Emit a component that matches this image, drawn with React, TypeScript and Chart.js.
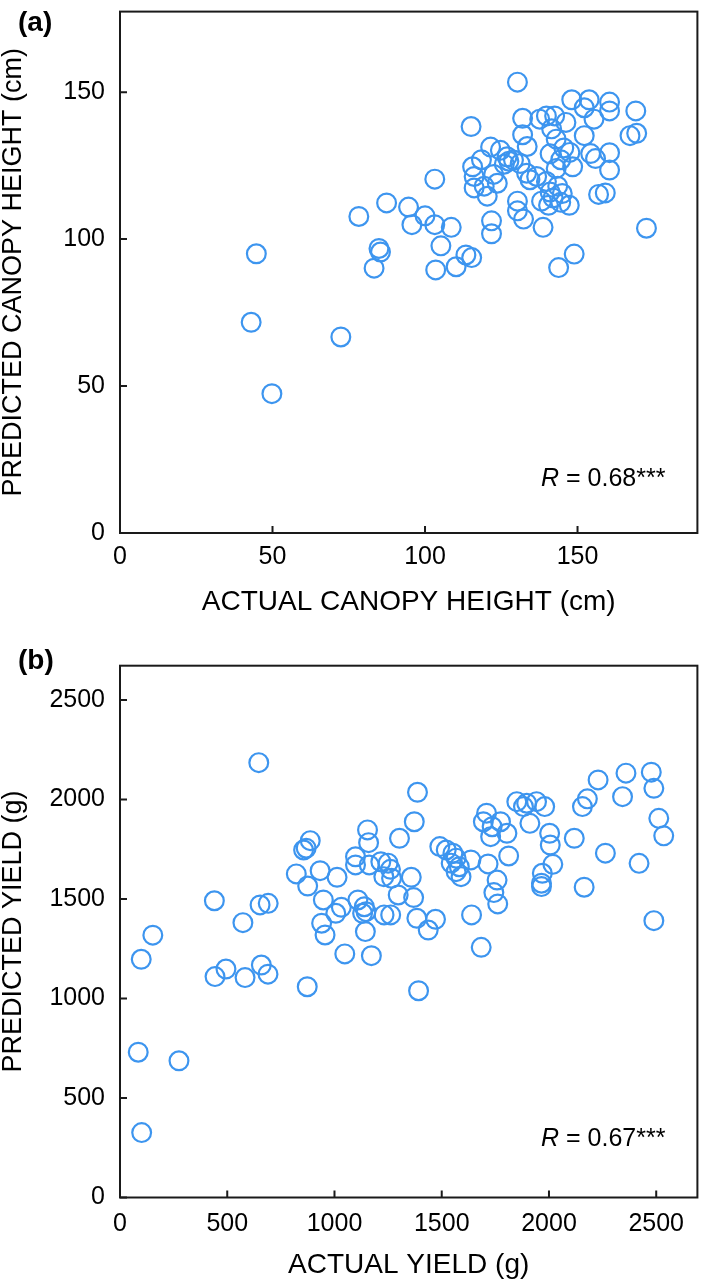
import React, { useEffect, useRef } from 'react';
import { Chart, registerables } from 'chart.js';

Chart.register(...registerables);

const FONT = "'Liberation Sans', Arial, Helvetica, sans-serif";
const BLUE = '#3d95ef';
const INK = '#1a1a1a';

// ---------- Panel (a): canopy height ----------
const heightActual = [
  43.0, 44.7, 49.8, 72.4, 78.3, 83.3, 84.9, 85.4, 87.4, 94.6, 95.7, 100.0, 103.2, 103.2, 105.2, 103.5, 108.6, 110.2, 113.4, 115.3, 115.1, 130.3,
  115.6, 116.1, 116.1, 119.4, 120.4, 121.5, 118.5, 123.7, 124.7, 126.9, 129.0, 131.2, 126.0, 133.3, 121.8, 121.8, 130.3, 130.3, 132.3, 122.5, 127.5,
  132.0, 132.0, 133.5, 137.6, 139.8, 142.5, 146.2, 148.1, 153.8, 152.2, 160.5, 160.5, 169.1, 167.2, 169.4, 155.4, 152.2, 154.3, 155.9, 160.5, 160.5, 148.4, 141.5, 143.0, 145.5, 141.0, 144.5, 147.5, 143.0,
  136.6, 139.8, 138.2, 141.0, 143.5, 142.0, 144.5, 140.5, 145.0, 147.3, 156.9, 159.1, 138.7, 148.9, 143.8, 172.6, 134.4,
];
const heightPredicted = [
  71.7, 95.0, 47.4, 66.7, 107.7, 90.1, 96.8, 95.6, 112.3, 110.9, 104.9, 107.9, 104.9, 120.4, 97.7, 89.5, 104.0, 90.6, 94.6, 93.7, 138.3, 153.4,
  124.6, 121.3, 117.4, 118.0, 114.6, 131.3, 127.0, 119.0, 130.2, 128.0, 126.9, 125.7, 125.5, 122.4, 106.2, 101.8, 112.9, 109.6, 106.8, 122.0, 126.5,
  141.1, 135.5, 131.5, 140.8, 141.9, 141.9, 139.7, 147.4, 147.4, 144.7, 146.6, 143.6, 143.6, 135.2, 136.0, 140.8, 135.2, 129.1, 127.4, 129.4, 123.5, 124.6, 137.5, 134.0, 131.0, 129.0, 127.0, 129.5, 124.0,
  121.3, 119.6, 112.9, 116.0, 118.0, 114.0, 112.5, 111.5, 115.5, 111.5, 115.2, 115.7, 104.0, 94.9, 90.3, 103.7, 120.2,
];
const heightTicks = [0, 50, 100, 150];
const heightXMax = 189.3;
const heightYMax = 177.4;

// ---------- Panel (b): yield ----------
const yieldActual = [
  85, 101, 99, 153, 275,
  443, 494, 583, 659, 690, 873,
  440, 573, 653, 691, 647,
  887, 856, 868, 822, 875, 933, 948, 940, 956,
  1012, 1032, 1006, 1048,
  1098, 1098, 1109, 1139, 1147, 1131, 1144, 1154, 1159, 1162, 1172,
  1216, 1230, 1231, 1250, 1261, 1266, 1262, 1297, 1303,
  1358, 1369, 1372, 1387, 1384, 1392, 1437, 1471,
  1491, 1521, 1552, 1567, 1544, 1582, 1567, 1590,
  1636, 1639, 1684, 1694, 1709, 1716, 1728, 1735, 1743, 1758, 1761, 1774, 1804, 1812,
  1850, 1881, 1896, 1911, 1942, 1965, 1965, 1969, 1980, 2003, 2006, 2018,
  2118, 2156, 2164, 2179, 2229, 2263, 2343, 2359, 2420, 2477, 2489, 2489, 2512, 2535,
];
const yieldPredicted = [
  730, 326, 1197, 1318, 687,
  1110, 1148, 1105, 1168, 1122, 1059,
  1491, 1381, 1470, 1478, 2185,
  1793, 1746, 1755, 1626, 1565, 1642, 1495, 1378, 1319,
  1609, 1458, 1428, 1224,
  1712, 1671, 1495, 1461, 1436, 1428, 1336, 1847, 1783, 1671, 1215,
  1687, 1612, 1420, 1680, 1649, 1604, 1420, 1520, 1805,
  1609, 1507, 1888, 2036, 1403, 1039, 1344, 1398,
  1763, 1746, 1730, 1705, 1680, 1662, 1637, 1612,
  1696, 1420, 1257, 1888, 1931, 1676, 1813, 1863, 1532, 1595, 1475, 1888, 1830, 1716,
  1989, 1964, 1981, 1880, 1989, 1579, 1562, 1629, 1964, 1830, 1771, 1674,
  1805, 1964, 1559, 2003, 2098, 1730, 2014, 2132, 1679, 2137, 2056, 1391, 1905, 1817,
];
const yieldTicks = [0, 500, 1000, 1500, 2000, 2500];
const yieldXMax = 2692;
const yieldYMax = 2672;

type PanelSpec = {
  xs: number[];
  ys: number[];
  ticks: number[];
  xMax: number;
  yMax: number;
  xTitle: string;
  yTitle: string;
  letter: string;
  rText: string;
  canvasH: number;
  padTop: number;
  xAxisH: number;
  xTickPad: number;
  xTitlePadBottom: number;
  letterY: number;
  rBaselineUp: number;
};

const panelDecor = {
  id: 'panelDecor',
  afterDraw(chart: any, _args: any, opts: any) {
    const { ctx, chartArea: a, scales } = chart;
    ctx.save();
    ctx.strokeStyle = INK;
    ctx.lineWidth = 2;
    ctx.beginPath();
    for (const t of scales.x.ticks) {
      const px = scales.x.getPixelForValue(t.value);
      ctx.moveTo(px, a.bottom);
      ctx.lineTo(px, a.bottom - 7);
    }
    for (const t of scales.y.ticks) {
      const py = scales.y.getPixelForValue(t.value);
      ctx.moveTo(a.left, py);
      ctx.lineTo(a.left + 7, py);
    }
    ctx.stroke();
    ctx.strokeRect(a.left, a.top, a.right - a.left, a.bottom - a.top);

    ctx.fillStyle = '#000';
    ctx.textBaseline = 'middle';
    ctx.textAlign = 'left';
    ctx.font = `bold 28px ${FONT}`;
    ctx.fillText(opts.letter, 18, opts.letterY);

    // R annotation
    ctx.textBaseline = 'alphabetic';
    const italic = `italic 25px ${FONT}`;
    const normal = `25px ${FONT}`;
    ctx.font = italic;
    const wR = ctx.measureText('R').width;
    ctx.font = normal;
    const rest = opts.rText;
    const wRest = ctx.measureText(rest).width;
    const right = a.right - 32;
    const base = a.bottom - opts.rBaselineUp;
    const x0 = right - wR - wRest;
    ctx.font = italic;
    ctx.fillText('R', x0, base);
    ctx.font = normal;
    ctx.fillText(rest, x0 + wR, base);
    ctx.restore();
  },
};

const zeroPad = (s: any) => {
  s.paddingTop = 0;
  s.paddingBottom = 0;
  s.paddingLeft = 0;
  s.paddingRight = 0;
};

function Panel({ spec, top }: { spec: PanelSpec; top: number }) {
  const ref = useRef<HTMLCanvasElement | null>(null);
  useEffect(() => {
    if (!ref.current) return;
    const data = spec.xs.map((x, i) => ({ x, y: spec.ys[i] }));
    const tickFont = { family: FONT, size: 25 };
    const xTitleFont = { family: FONT, size: 28, lineHeight: 1 };
    const yTitleFont = { family: FONT, size: 27, lineHeight: 1 };
    const chart = new Chart(ref.current, {
      type: 'scatter',
      data: {
        datasets: [
          {
            data,
            pointStyle: 'circle',
            pointRadius: 9.4,
            pointHoverRadius: 9.4,
            borderWidth: 2.2,
            borderColor: BLUE,
            backgroundColor: 'rgba(0,0,0,0)',
          },
        ],
      },
      plugins: [panelDecor],
      options: {
        animation: false,
        responsive: false,
        events: [],
        devicePixelRatio: 1,
        layout: { padding: { left: 0, right: 2, top: spec.padTop, bottom: 0 } },
        plugins: {
          legend: { display: false },
          tooltip: { enabled: false },
          // @ts-ignore
          panelDecor: { letter: spec.letter, letterY: spec.letterY, rText: spec.rText, rBaselineUp: spec.rBaselineUp },
        },
        scales: {
          x: {
            type: 'linear',
            min: 0,
            max: spec.xMax,
            grid: { display: false, drawTicks: false },
            border: { display: false },
            afterBuildTicks: (s: any) => {
              s.ticks = spec.ticks.map((v) => ({ value: v }));
            },
            afterFit: (s: any) => {
              s.height = spec.xAxisH;
              zeroPad(s);
            },
            ticks: {
              font: tickFont,
              color: '#000',
              padding: spec.xTickPad,
              maxRotation: 0,
              autoSkip: false,
              callback: (v: any) => String(v),
            },
            title: {
              display: true,
              text: spec.xTitle,
              font: xTitleFont,
              color: '#000',
              padding: { top: 0, bottom: spec.xTitlePadBottom },
            },
          },
          y: {
            type: 'linear',
            min: 0,
            max: spec.yMax,
            grid: { display: false, drawTicks: false },
            border: { display: false },
            afterBuildTicks: (s: any) => {
              s.ticks = spec.ticks.map((v) => ({ value: v }));
            },
            afterFit: (s: any) => {
              s.width = 120;
              zeroPad(s);
            },
            ticks: {
              font: tickFont,
              color: '#000',
              padding: 15,
              autoSkip: false,
              callback: (v: any) => String(v),
            },
            title: {
              display: true,
              text: spec.yTitle,
              font: yTitleFont,
              color: '#000',
              padding: { top: 0, bottom: 0 },
            },
          },
        },
      },
    } as any);
    return () => chart.destroy();
  }, [spec]);
  return (
    <canvas
      ref={ref}
      width={709}
      height={spec.canvasH}
      style={{ position: 'absolute', left: 0, top, width: 709, height: spec.canvasH, display: 'block' }}
    />
  );
}

const specA: PanelSpec = {
  xs: heightActual,
  ys: heightPredicted,
  ticks: heightTicks,
  xMax: heightXMax,
  yMax: heightYMax,
  xTitle: 'ACTUAL CANOPY HEIGHT (cm)',
  yTitle: 'PREDICTED CANOPY HEIGHT (cm)',
  letter: '(a)',
  rText: ' = 0.68***',
  canvasH: 640,
  padTop: 2,
  xAxisH: 107,
  xTickPad: 9.6,
  xTitlePadBottom: 24,
  letterY: 23,
  rBaselineUp: 47.3,
};

const specB: PanelSpec = {
  xs: yieldActual,
  ys: yieldPredicted,
  ticks: yieldTicks,
  xMax: yieldXMax,
  yMax: yieldYMax,
  xTitle: 'ACTUAL YIELD (g)',
  yTitle: 'PREDICTED YIELD (g)',
  letter: '(b)',
  rText: ' = 0.67***',
  canvasH: 641,
  padTop: 25.7,
  xAxisH: 83.5,
  xTickPad: 12,
  xTitlePadBottom: 2,
  letterY: 21.5,
  rBaselineUp: 51.8,
};

export default function App() {
  return (
    <div style={{ position: 'absolute', left: 0, top: 0, width: 709, height: 1281, background: '#fff' }}>
      <Panel spec={specA} top={0} />
      <Panel spec={specB} top={640} />
    </div>
  );
}
